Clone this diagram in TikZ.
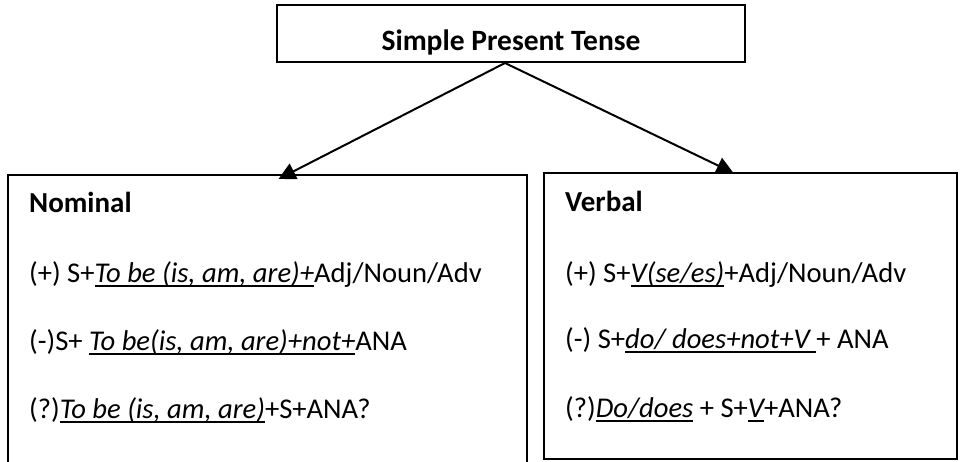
\documentclass[tikz,border=0pt]{standalone}
\usepackage{fontspec}
\setmainfont{Carlito}
\usetikzlibrary{arrows.meta}

% italic text with a rule under it
\newcommand{\uit}[1]{\setbox0\hbox{\itshape #1}\rlap{\rule[-4.5pt]{\wd0}{1.8pt}}\box0\relax}

\tikzset{
    frame/.style={draw, line width=2pt, inner sep=0pt},
    rule/.style={anchor=base west, inner sep=0pt, font=\fontsize{28.6}{32}\selectfont},
    branch/.style={line width=2pt, -{Triangle[length=17pt,width=17pt]}},
}

\begin{document}
\begin{tikzpicture}[x=1pt,y=-1pt]
    \clip (0,0) rectangle (960,462);
    % boxes
    \node[frame, minimum width=468pt, minimum height=57pt] (tense) at (511,33.5) {};
    \node[frame, minimum width=519pt, minimum height=325pt] (nominal) at (267.5,337.5) {};
    \node[frame, minimum width=413pt, minimum height=286pt] (verbal) at (750.5,316) {};
    \node[rule, anchor=base, font=\fontsize{29.5}{32}\selectfont\bfseries] (title) at (511,51) {Simple Present Tense};
    % nominal
    \node[rule, font=\fontsize{29}{32}\selectfont\bfseries] (nomhead) at (29,213) {Nominal};
    \node[rule] (nompos) at (29,282) {(+) S+\uit{To be (is, am, are)+}Adj/Noun/Adv};
    \node[rule] (nomneg) at (29,350) {(-)S+ \uit{To be(is, am, are)+not+}ANA};
    \node[rule] (nomq) at (29,418) {(?)\uit{To be (is, am, are)}+S+ANA?};
    % verbal
    \node[rule, font=\fontsize{29}{32}\selectfont\bfseries] (verbhead) at (565,212) {Verbal};
    \node[rule] (verbpos) at (565,282) {(+) S+\uit{V(se/es)}+Adj/Noun/Adv};
    \node[rule] (verbneg) at (565,348) {(-) S+\uit{do/ does+not+V }+ ANA};
    \node[rule] (verbq) at (565,417) {(?)\uit{Do/does} + S+\uit{V}+ANA?};
    % arrows
    \draw[branch] ([xshift=-6pt]tense.south) -- ([xshift=11pt,yshift=-5pt]nominal.north);
    \draw[branch] ([xshift=-6pt]tense.south) -- ([xshift=-17pt,yshift=-1pt]verbal.north);
\end{tikzpicture}
\end{document}
